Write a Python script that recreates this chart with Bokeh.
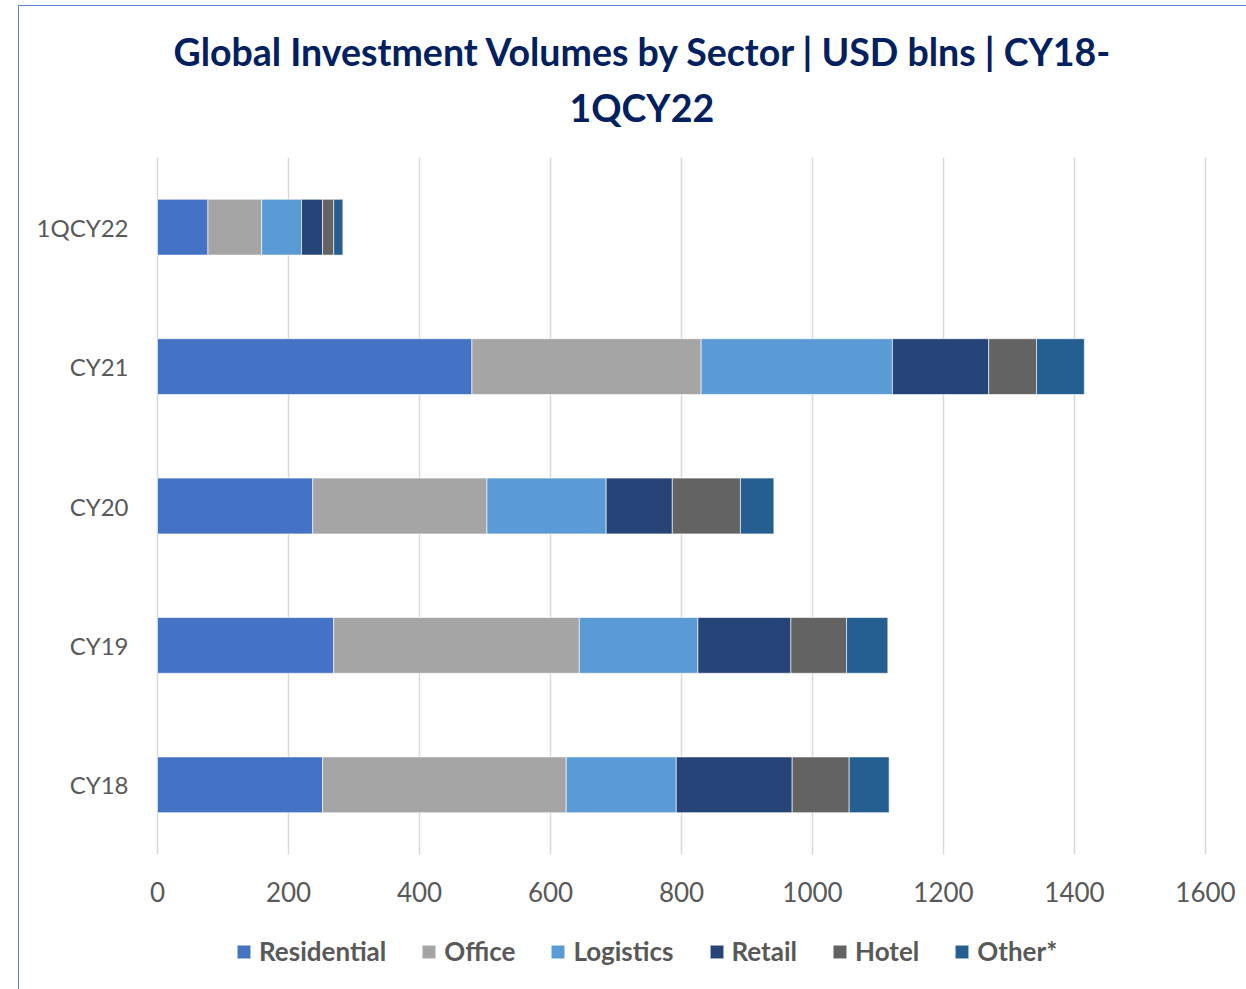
from bokeh.plotting import figure
from bokeh.models import (ColumnDataSource, Range1d, Legend, LegendItem,
                          Title, FixedTicker, InlineStyleSheet)
from bokeh.transform import stack
from bokeh.embed import file_html
from bokeh.resources import INLINE

categories = ["CY18", "CY19", "CY20", "CY21", "1QCY22"]
residential = [252, 269, 237, 480, 77]
office = [372, 375, 266, 350, 82]
logistics = [168, 181, 182, 292, 61]
retail = [177, 142, 101, 147, 32]
hotel = [87, 85, 104, 73, 17]
other = [61, 63, 51, 73, 14]

sectors = ["Residential", "Office", "Logistics", "Retail", "Hotel", "Other*"]
colors = ["#4472C4", "#A5A5A5", "#5B9BD5", "#264478", "#636363", "#255E91"]
x_ticks = [0, 200, 400, 600, 800, 1000, 1200, 1400, 1600]

title_line1 = "Global Investment Volumes by Sector | USD blns | CY18-"
title_line2 = "1QCY22"

FONT = "Lato"

positions = list(range(len(categories)))
source = ColumnDataSource(data={
    "pos": positions,
    "Residential": residential,
    "Office": office,
    "Logistics": logistics,
    "Retail": retail,
    "Hotel": hotel,
    "Other*": other,
})

# layout (pixels): value 0 sits 157px from the left, 1600 at 1205px
PX_PER_UNIT = 1048 / 1600
LEFT_PAD = 137          # frame starts 20px from the left edge
RIGHT_PAD = 41
band_low = -0.5
band_high = len(categories) - 0.5
y_bottom = band_low - 135 / 139.4   # room below the bands for labels + legend

p = figure(frame_width=1048 + LEFT_PAD + RIGHT_PAD, frame_height=832,
           y_range=Range1d(y_bottom, band_high),
           x_range=Range1d(-LEFT_PAD / PX_PER_UNIT, 1600 + RIGHT_PAD / PX_PER_UNIT),
           output_backend="svg", toolbar_location=None, title=None,
           min_border_left=20, min_border_right=0,
           min_border_top=157, min_border_bottom=0)

p.outline_line_color = None
p.background_fill_color = "white"
p.border_fill_color = "white"

# vertical grid lines, limited to the category bands
grid_src = ColumnDataSource(data={"x": x_ticks})
p.segment(x0="x", y0=band_low, x1="x", y1=band_high, source=grid_src,
          line_color="#D9D9D9", line_width=1.5)

items = []
for i, s in enumerate(sectors):
    left = 0 if i == 0 else stack(*sectors[:i])
    r = p.hbar(y="pos", left=left, right=stack(*sectors[:i + 1]), height=0.4,
               source=source, fill_color=colors[i], line_color="white",
               line_width=1, line_alpha=0.6)
    items.append(LegendItem(label=s, renderers=[r]))

p.xgrid.grid_line_color = None
p.ygrid.grid_line_color = None

# x axis fixed at the bottom of the category bands
p.xaxis.fixed_location = band_low
p.xaxis.ticker = FixedTicker(ticks=x_ticks)
p.xaxis.axis_line_color = None
p.xaxis.major_tick_line_color = None
p.xaxis.minor_tick_line_color = None
p.xaxis.major_tick_out = 0
p.xaxis.major_tick_in = 0
p.xaxis.major_label_standoff = 27
p.xaxis.major_label_text_font = FONT
p.xaxis.major_label_text_font_size = "26px"
p.xaxis.major_label_text_color = "#595959"

# y axis with category names, fixed at value 0
p.yaxis.fixed_location = 0
p.yaxis.ticker = FixedTicker(ticks=positions)
p.yaxis.major_label_overrides = {pos: cat for pos, cat in zip(positions, categories)}
p.yaxis.axis_line_color = None
p.yaxis.major_tick_line_color = None
p.yaxis.minor_tick_line_color = None
p.yaxis.major_tick_out = 0
p.yaxis.major_tick_in = 0
p.yaxis.major_label_standoff = 29
p.yaxis.major_label_text_font = FONT
p.yaxis.major_label_text_font_size = "24px"
p.yaxis.major_label_text_color = "#595959"

# titles: spacer (nearest the frame), second line, first line
spacer = Title(text=" ", text_font_size="10px", standoff=15, text_color="white")
t2 = Title(text=title_line2, align="left", offset=412 + LEFT_PAD, standoff=0,
           text_font=FONT, text_font_size="37.5px", text_font_style="bold",
           text_color="#002060")
t1 = Title(text=title_line1, align="left", offset=16 + LEFT_PAD, standoff=18,
           text_font=FONT, text_font_size="37.5px", text_font_style="bold",
           text_color="#002060")
p.add_layout(spacer, "above")
p.add_layout(t2, "above")
p.add_layout(t1, "above")

legend = Legend(items=items, orientation="horizontal", location=(78 + LEFT_PAD, 22),
                label_text_font=FONT, label_text_font_size="26px",
                label_text_font_style="bold", label_text_color="#595959",
                glyph_width=17, glyph_height=17, label_standoff=7, spacing=34,
                border_line_color=None, background_fill_alpha=0, padding=0,
                margin=0)
p.add_layout(legend, "center")

# thin chart-area border (left and top edges), drawn over the canvas via CSS
p.stylesheets = [InlineStyleSheet(css=(
    ":host::after { content: ''; position: absolute; left: 18px; top: 5px; "
    "width: 1400px; height: 1200px; border-left: 1.5px solid #5B86D6; "
    "border-top: 1.5px solid #5B86D6; pointer-events: none; z-index: 10; }"))]

open("out.html", "w").write(file_html(p, INLINE))
